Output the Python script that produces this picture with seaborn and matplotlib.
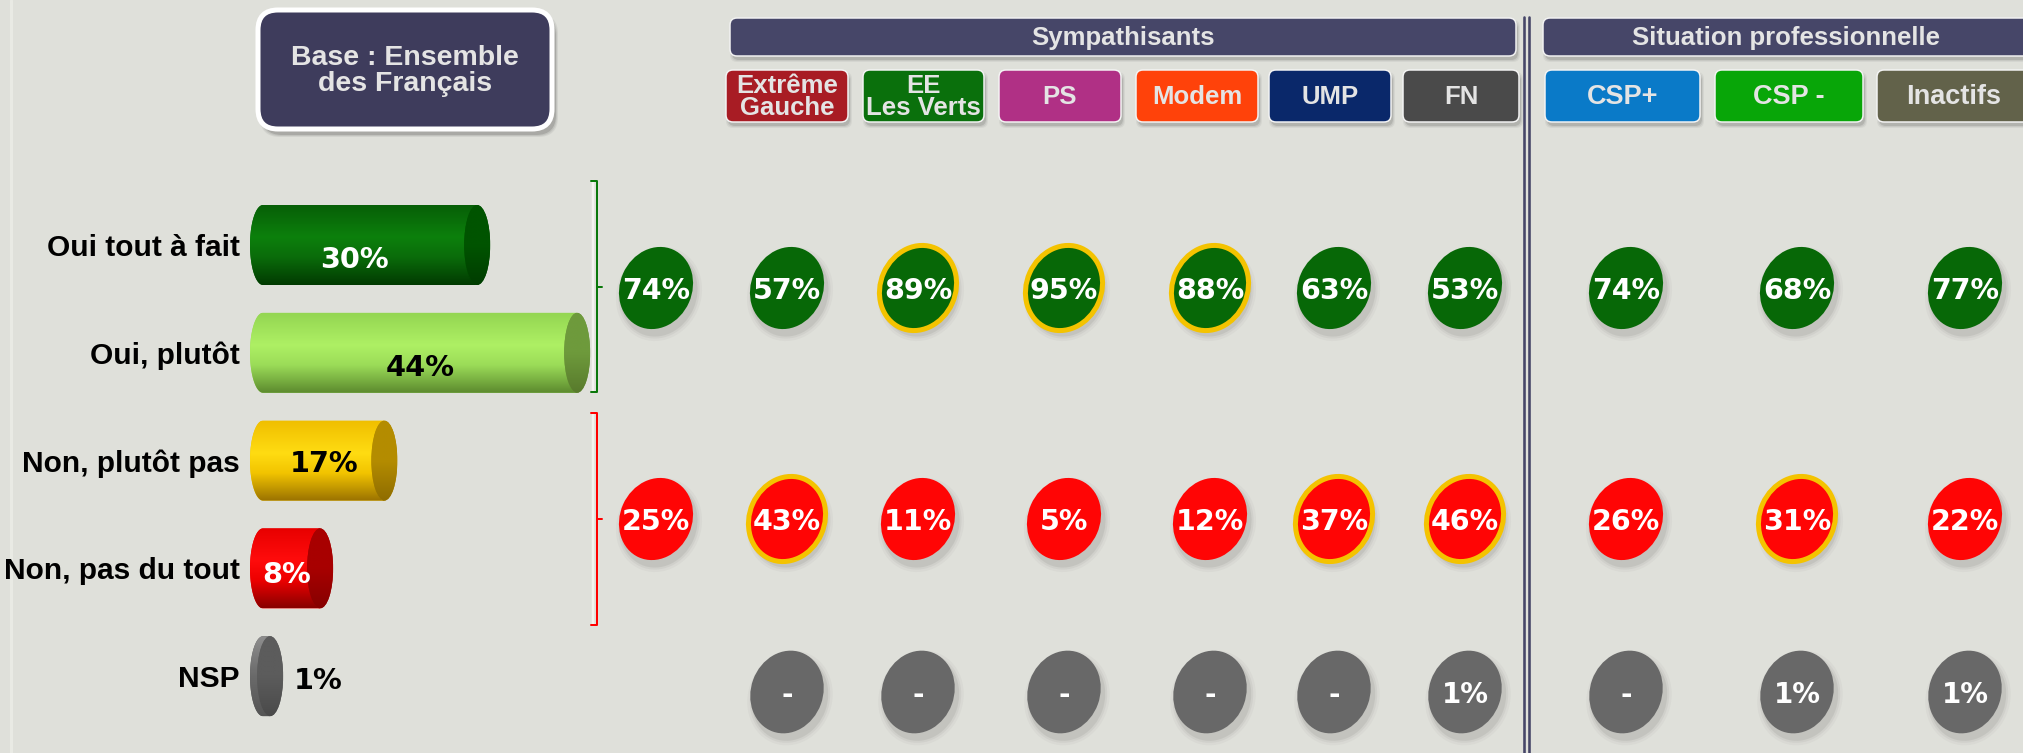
import numpy as np
import pandas as pd
import matplotlib
matplotlib.use("Agg")
import matplotlib.pyplot as plt
import seaborn as sns
from matplotlib.patches import Ellipse, FancyBboxPatch, PathPatch
from matplotlib.path import Path
from matplotlib.colors import LinearSegmentedColormap

# ---------------------------------------------------------------- data
answers = ["Oui tout à fait", "Oui, plutôt", "Non, plutôt pas", "Non, pas du tout", "NSP"]
shares = [30, 44, 17, 8, 1]

# one column per population, the first one is the whole sample
column_names = ["Ensemble", "Extrême\nGauche", "EE\nLes Verts", "PS", "Modem",
                "UMP", "FN", "CSP+", "CSP -", "Inactifs"]
total_oui = [74, 57, 89, 95, 88, 63, 53, 74, 68, 77]
total_non = [25, 43, 11, 5, 12, 37, 46, 26, 31, 22]
total_nsp = [1, 0, 0, 0, 0, 0, 1, 0, 1, 1]
oui_highlight = [False, False, True, True, True, False, False, False, False, False]
non_highlight = [False, True, False, False, False, True, True, False, True, False]

header_groups = ["Sympathisants", "Situation professionnelle"]
base_caption = "Base : Ensemble\ndes Français"

# ---------------------------------------------------------------- style
W, H = 2024, 753
BG = "#dfe0da"
NAVY = "#464668"
PALE = "#e4e4e4"
GOLD = "#f4c300"
TXT = "Liberation Sans"
NUM = "DejaVu Sans"

bar_shades = [
    (["#075f07", "#0c800c", "#0a6c0a", "#013a01"], ["#005400", "#003c00"]),
    (["#94d652", "#aef064", "#9bdc58", "#5c8a2e"], ["#6e9a3c", "#587a2c"]),
    (["#f0bf00", "#ffdc12", "#f2c400", "#9a7200"], ["#b48c00", "#8e6c00"]),
    (["#e80000", "#ff0c0c", "#ee0000", "#880000"], ["#a80000", "#860000"]),
    (["#8a8a8a", "#6a6a6a", "#5a5a5a", "#444444"], ["#5c5c5c", "#4a4a4a"]),
]
value_colors = ["white", "black", "black", "white", "black"]
value_shift_px = [(-16, 12), (0, 12), (0, 0), (-5, 4), (0, 2)]

box_colors = [None, "#a81c24", "#0a700c", "#b03085", "#ff420a", "#0a286a",
              "#4a4a4a", "#0a7ac8", "#08a608", "#62624a"]

# layout in pixels
col_x = [656, 787, 918, 1064, 1210, 1334, 1465, 1626, 1797, 1965]
box_span = [None, (726, 848), (863, 984), (999, 1121), (1136, 1258),
            (1269, 1391), (1403, 1519), (1545, 1700), (1715, 1863), (1877, 2044)]
header_span = [(730, 1516), (1543, 2044)]
row_oui, row_non, row_nsp = 288, 519, 692

sns.set_style("white", {"axes.facecolor": BG, "figure.facecolor": BG})
plt.rcParams["font.family"] = [TXT, "DejaVu Sans"]

fig = plt.figure(figsize=(W / 100, H / 100), dpi=100)
fig.patch.set_facecolor(BG)

ax = fig.add_axes([0, 0, 1, 1], zorder=0)
ax.set_xlim(0, W)
ax.set_ylim(H, 0)
ax.axis("off")

PX = 72 / 100  # points per pixel


def rounded(x0, y0, x1, y1, face, edge, lw, r, z, shadow=(2, 4), shadow_alpha=0.35):
    sx, sy = shadow
    for grow, al in [(4, shadow_alpha * 0.35), (2, shadow_alpha * 0.5), (0, shadow_alpha)]:
        ax.add_patch(FancyBboxPatch((x0 + sx - grow / 2, y0 + sy - grow / 2),
                                    x1 - x0 + grow, y1 - y0 + grow,
                                    boxstyle=f"round,pad=0,rounding_size={r}",
                                    facecolor="#8c8c88", alpha=al, lw=0, zorder=z - 0.5))
    ax.add_patch(FancyBboxPatch((x0, y0), x1 - x0, y1 - y0,
                                boxstyle=f"round,pad=0,rounding_size={r}",
                                facecolor=face, edgecolor=edge, lw=lw, zorder=z))


# faint frame line on the left
ax.plot([11, 11], [0, H], color="#e9eae4", lw=3 * PX, zorder=1)

# base caption box
rounded(258, 10, 552, 129, "#3e3c5c", "white", 5 * PX, 20, 5, shadow=(4, 6), shadow_alpha=0.45)
ax.text(405, 71, base_caption, ha="center", va="center", color=PALE, fontsize=20.5,
        fontweight="bold", family=TXT, linespacing=1.0, zorder=6)

# group headers
for name, (x0, x1) in zip(header_groups, header_span):
    rounded(x0, 18, x1, 56, NAVY, "#f2f2f2", 1.5 * PX, 7, 5)
    ax.text((x0 + min(x1, 2030)) / 2, 38, name, ha="center", va="center", color=PALE,
            fontsize=18.5, fontweight="bold", family=TXT, zorder=6)

# population boxes
for name, span, color in zip(column_names[1:], box_span[1:], box_colors[1:]):
    x0, x1 = span
    size = 19.5 if "CSP" in name or name == "Inactifs" else 18.5
    rounded(x0, 70, x1, 122, color, "#f4f4f4", 1.5 * PX, 7, 5)
    ax.text((x0 + min(x1, 2030)) / 2, 97, name, ha="center", va="center", color=PALE,
            fontsize=size, fontweight="bold", family=TXT, linespacing=0.92, zorder=6)

# double separator between the two groups
for sx in (1524, 1529):
    ax.plot([sx, sx], [17, H], color=NAVY, lw=2.6 * PX, zorder=4)


# brackets joining the answers
def bracket(y0, y1, color):
    ym = (y0 + y1) / 2
    ax.plot([593, 593], [y0, y1], color="#f3f3ef", lw=2.5 * PX, zorder=2)
    ax.plot([591, 597, 597, 591], [y0, y0, y1, y1], color=color, lw=2 * PX, zorder=3)
    ax.plot([597, 602], [ym, ym], color=color, lw=2 * PX, zorder=3)


bracket(181, 392, "#0a780a")
bracket(413, 625, "#ff0000")


# value badges
def badge(x, y, text, face, ring=False, angle=24, size=20.5):
    a, b = 42, 36
    for grow, al in [(12, 0.05), (7, 0.08), (3, 0.12)]:
        ax.add_patch(Ellipse((x + 3, y + 6), 2 * b + grow, 2 * a + grow, angle=angle,
                             facecolor="#6a6a66", alpha=al, lw=0, zorder=3))
    if ring:
        ax.add_patch(Ellipse((x, y), 2 * b + 3, 2 * a + 3, angle=angle, facecolor=face,
                             edgecolor=GOLD, lw=5 * PX, zorder=4))
    else:
        ax.add_patch(Ellipse((x, y), 2 * b, 2 * a, angle=angle, facecolor=face,
                             lw=0, zorder=4))
    ax.text(x, y, text, ha="center", va="center_baseline", color="white", fontsize=size,
            fontweight="bold", family=NUM, zorder=5)


for i, x in enumerate(col_x):
    badge(x, row_oui, f"{total_oui[i]}%", "#076807", oui_highlight[i])
    badge(x, row_non, f"{total_non[i]}%", "#ff0505", non_highlight[i])
    if i > 0:
        nsp_text = f"{total_nsp[i]}%" if total_nsp[i] > 0 else "-"
        badge(x, row_nsp, nsp_text, "#686868", False, angle=20, size=20)

# ---------------------------------------------------------------- cylinders
K = 7.14          # pixels per percentage point
X0 = 263          # pixel position of 0 %
ROW0, STEP = 245, 107.8
XMIN, XMAX = -2, 50
LABEL_RIGHT = 240
top = ROW0 - STEP / 2
ax_left = X0 + XMIN * K
axb = fig.add_axes([ax_left / W, (H - (top + 5 * STEP)) / H,
                    (XMAX - XMIN) * K / W, 5 * STEP / H], zorder=2)
axb.patch.set_alpha(0)

df = pd.DataFrame({"answer": answers, "share": shares})
sns.barplot(data=df, x="share", y="answer", hue="answer",
            palette=[s[0][2] for s in bar_shades], legend=False, orient="h",
            width=0.742, ax=axb, saturation=1)
axb.set_xlim(XMIN, XMAX)
axb.set_ylim(4.5, -0.5)

rx = 13 / K  # end-cap half width in percentage points

bars = sorted(axb.patches, key=lambda p: p.get_y())
for i, p in enumerate(bars):
    p.set_visible(False)
    x0, x1 = p.get_x(), p.get_x() + p.get_width()
    y0, h = p.get_y(), p.get_height()
    yc = y0 + h / 2
    body_cols, cap_cols = bar_shades[i]

    t = np.linspace(np.pi / 2, 3 * np.pi / 2, 60)
    verts = [(x0, yc - h / 2), (x1, yc - h / 2), (x1, yc + h / 2), (x0, yc + h / 2)]
    verts += list(zip(x0 + rx * np.cos(t), yc + h / 2 * np.sin(t)))
    verts.append((x0, yc - h / 2))
    body = PathPatch(Path(verts), transform=axb.transData, facecolor=body_cols[2],
                     lw=0, zorder=2)
    axb.add_patch(body)
    cmap = LinearSegmentedColormap.from_list(
        "body", list(zip([0, 0.4, 0.65, 1], body_cols)))
    if i == 4:
        cmap = LinearSegmentedColormap.from_list(
            "body", list(zip([0, 0.5, 1], ["#8e8e8e", "#6a6a6a", "#555555"])))
    grad = cmap(np.linspace(0, 1, 256))[:, None, :]
    im = axb.imshow(grad, extent=[x0 - rx, x1 + rx, yc + h / 2, yc - h / 2],
                    origin="upper", aspect="auto", interpolation="bilinear", zorder=3)
    im.set_clip_path(body)

    cap = Ellipse((x1, yc), 2 * rx, h, facecolor=cap_cols[0], lw=0, zorder=4)
    axb.add_patch(cap)
    ccmap = LinearSegmentedColormap.from_list("cap", [cap_cols[0], cap_cols[0], cap_cols[1]])
    cgrad = ccmap(np.linspace(0, 1, 256))[:, None, :]
    cim = axb.imshow(cgrad, extent=[x1 - rx, x1 + rx, yc + h / 2, yc - h / 2],
                     origin="upper", aspect="auto", interpolation="bilinear", zorder=5)
    cim.set_clip_path(cap)

    v = shares[i]
    dx, dy = value_shift_px[i]
    if v >= 5:
        axb.annotate(f"{v}%", xy=(v / 2, yc), xytext=(dx * PX, -dy * PX),
                     textcoords="offset points", ha="center", va="center_baseline",
                     color=value_colors[i], fontsize=20.7, fontweight="bold",
                     family=NUM, zorder=6, annotation_clip=False)
    else:
        axb.annotate(f"{v}%", xy=(v + rx, yc), xytext=((11 + dx) * PX, -dy * PX),
                     textcoords="offset points", ha="left", va="center_baseline",
                     color=value_colors[i], fontsize=20.7, fontweight="bold",
                     family=NUM, zorder=6, annotation_clip=False)

axb.set_xlim(XMIN, XMAX)
axb.set_ylim(4.5, -0.5)
axb.set_xlabel("")
axb.set_ylabel("")
axb.set_xticks([])
for s in axb.spines.values():
    s.set_visible(False)
axb.tick_params(axis="y", length=0, pad=(ax_left - LABEL_RIGHT) * PX)
for lbl in axb.get_yticklabels():
    lbl.set_fontsize(21.5)
    lbl.set_fontweight("bold")
    lbl.set_fontfamily(TXT)
    lbl.set_color("black")

fig.savefig("out.png", dpi=100, facecolor=BG)
